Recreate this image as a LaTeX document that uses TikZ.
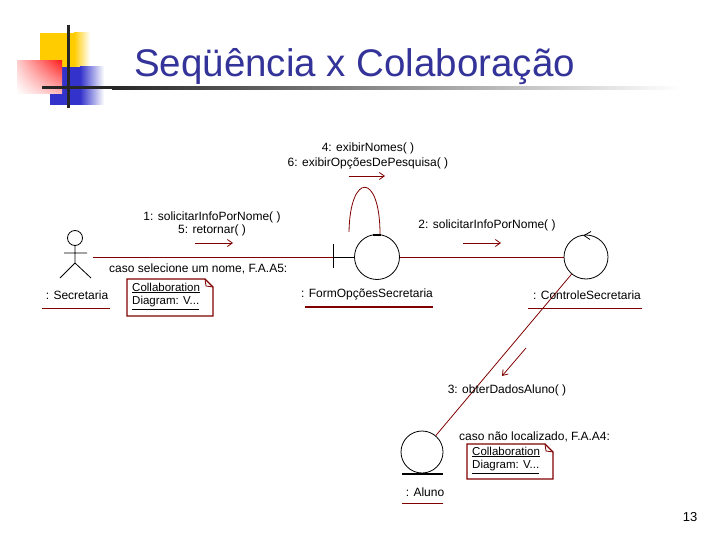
\documentclass[tikz,border=0pt]{standalone}
\usepackage{fontspec}
\setmainfont{Liberation Sans}
\usetikzlibrary{arrows.meta,shadings}
\definecolor{maroon}{RGB}{128,0,0}
\definecolor{titleblue}{RGB}{51,51,153}
\definecolor{logoyellow}{RGB}{255,204,0}
\definecolor{logoblue}{RGB}{51,51,204}
\definecolor{logored}{RGB}{255,30,30}
\begin{document}
\begin{tikzpicture}[x=1pt,y=-1pt,
  lbl/.style={font=\fontsize{12}{14}\selectfont, inner sep=0pt},
  notetxt/.style={font=\fontsize{11.5}{13}\selectfont, inner sep=0pt, anchor=west},
  link/.style={draw=maroon, line width=0.8pt},
  msg/.style={draw=maroon, line width=0.8pt, -{Straight Barb[length=5pt,width=7pt]}},
  obj/.style={circle, draw=black, line width=0.8pt, inner sep=0pt},
  notebox/.style={draw=maroon, line width=1.1pt, fill=white},
  uline/.style={draw=maroon, line width=0.8pt}]
\useasboundingbox (0,0) rectangle (720,540);
\fill[white] (0,0) rectangle (720,540);
% ---------- logo ----------
\fill[logoyellow] (40,33) rectangle (74,80);
\shade[left color=logoyellow, right color=white] (74,33) rectangle (90,80);
\fill[logoblue] (50,67) rectangle (80,105);
\shade[left color=logoblue, right color=white] (80,67) rectangle (104,105);
\shade[upper right=logored, upper left=logored!22, lower right=logored!30, lower left=white] (17,61) rectangle (62,94);
\fill[black!85] (42,86.5) rectangle (112,89.5);
\shade[left color=black!85, right color=white] (112,86.5) rectangle (680,89.5);
\fill[black!85] (66.5,25) rectangle (69.5,108);
% ---------- title ----------
\node[anchor=base west, inner sep=0pt, text=titleblue, font=\fontsize{38.5}{44}\selectfont] (title) at (134,77) {Seqüência x Colaboração};
% ---------- actor ----------
\draw[line width=0.8pt] (75,238) circle (7.5);
\draw[line width=0.8pt] (75,245.5) -- (75,263) (64,253) -- (87,253) (60,278) -- (75,263) -- (91,278);
\coordinate (actor) at (93,257);
\node[lbl] (secl) at (77,295) {: Secretaria};
\draw[uline] (42,308) -- (110,308);
% ---------- objects ----------
\node[obj, minimum size=45pt] (form) at (377,257) {};
\node[obj, minimum size=44pt] (ctrl) at (586,257) {};
\node[obj, minimum size=42pt] (aluno) at (422,452) {};
\coordinate (bar) at (333,257);
\draw[line width=0.8pt] (333,244) -- (333,268);
\draw[line width=0.8pt] (bar) -- (form.west);
\draw[line width=2pt] (form.north) ++(-4,0.5) -- ++(8,0);
% control symbol arrow
\draw[line width=0.8pt] (591,231.5) -- (584,235.5) -- (590,239.5);
% entity symbol line
\draw[line width=1.6pt] (402,474) -- (443,474);
% ---------- links ----------
\draw[link] (actor) -- (bar);
\draw[link] (form) -- (ctrl);
\draw[link] (ctrl) -- (aluno);
\coordinate (loopend) at (349,232);
\draw[link] ([xshift=3pt]form.north) .. controls (380,172) and (350,172) .. (loopend);
% ---------- message arrows ----------
\coordinate (m1a) at (195,243); \coordinate (m1b) at (233,243);
\coordinate (m2a) at (463,243); \coordinate (m2b) at (501,243);
\coordinate (m4a) at (349,176); \coordinate (m4b) at (385,176);
\coordinate (m3a) at (526,348); \coordinate (m3b) at (502,376);
\draw[msg] (m1a) -- (m1b);
\draw[msg] (m2a) -- (m2b);
\draw[msg] (m4a) -- (m4b);
\draw[msg] (m3a) -- (m3b);
% ---------- labels ----------
\node[lbl] (l1) at (212,217) {1: solicitarInfoPorNome( )};
\node[lbl] (l5) at (212,230) {5: retornar( )};
\node[lbl] (l4) at (368,148) {4: exibirNomes( )};
\node[lbl] (l6) at (368,163) {6: exibirOpçõesDePesquisa( )};
\node[lbl] (l2) at (487,225) {2: solicitarInfoPorNome( )};
\node[lbl] (l3) at (507,390) {3: obterDadosAluno( )};
\node[lbl, anchor=west] (c1) at (109,269) {caso selecione um nome, F.A.A5:};
\node[lbl, anchor=west] (c2) at (459,437) {caso não localizado, F.A.A4:};
\node[lbl] (forml) at (367,294) {: FormOpçõesSecretaria};
\draw[draw=maroon, line width=2.2pt] (305,307) -- (433,307);
\node[lbl] (ctrll) at (587,295) {: ControleSecretaria};
\draw[uline] (528,308) -- (642,308);
\node[lbl] (alunol) at (425,492) {: Aluno};
\draw[uline] (402,503) -- (443,503);
% ---------- notes ----------
\draw[notebox] (127,279) -- (205,279) -- (213,287) -- (213,316) -- (127,316) -- cycle;
\draw[draw=maroon, line width=0.8pt] (205,279) -- (206,286) -- (213,287);
\node[notetxt] (n1a) at (132,288) {\underline{Collaboration}};
\node[notetxt] (n1b) at (132,303) {\underline{Diagram: V...}};
\draw[notebox] (467,444) -- (545,444) -- (553,452) -- (553,479) -- (467,479) -- cycle;
\draw[draw=maroon, line width=0.8pt] (545,444) -- (546,451) -- (553,452);
\node[notetxt] (n2a) at (472,452) {\underline{Collaboration}};
\node[notetxt] (n2b) at (472,467) {\underline{Diagram: V...}};
% ---------- page number ----------
\node[inner sep=0pt, font=\fontsize{13}{15}\selectfont] (pg) at (690,517) {13};
\end{tikzpicture}
\end{document}
